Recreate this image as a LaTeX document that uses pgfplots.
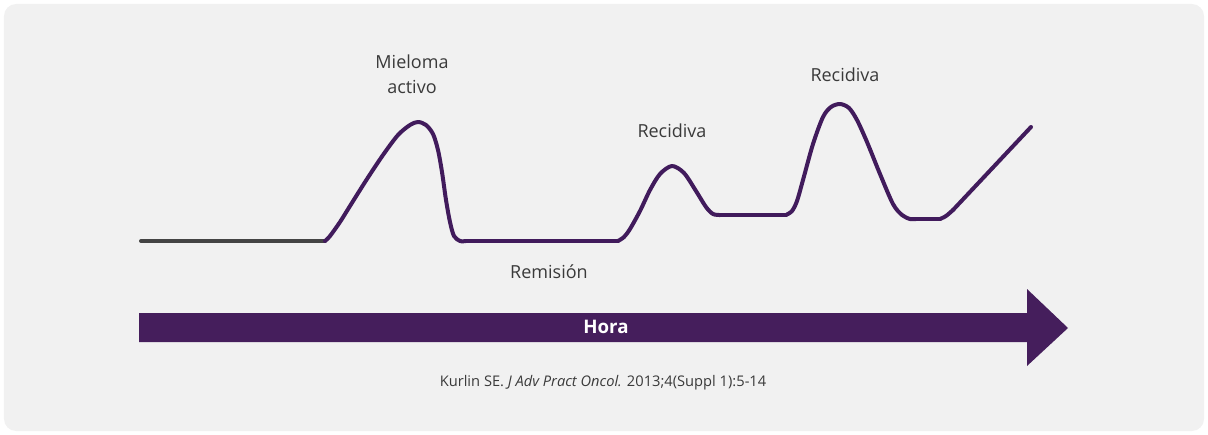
\documentclass[border=0pt]{standalone}
\usepackage{pgfplots}
\pgfplotsset{compat=1.18}
\usepackage{fontspec}
\setmainfont{Open Sans}
\definecolor{bgc}{HTML}{F1F1F1}
\definecolor{curvec}{HTML}{411B5C}
\definecolor{arrowc}{HTML}{451E5C}
\definecolor{grayc}{HTML}{444444}
\definecolor{txtc}{HTML}{3A3A3A}
\begin{document}
\begin{tikzpicture}
\begin{axis}[
  scale only axis, width=906pt, height=326.25pt,
  xmin=0, xmax=1208, ymin=0, ymax=435, y dir=reverse,
  hide axis, clip=false,
]
\fill[bgc, rounded corners=9pt] (axis cs:4,4) rectangle (axis cs:1204,431);
% arrow
\addplot[fill=arrowc, draw=none] coordinates {
 (139,313) (1027,313) (1027,289) (1068,328) (1027,366) (1027,342) (139,342) } -- cycle;
% gray baseline
\addplot[grayc, line width=3pt, line cap=round] coordinates {(141,241) (325,241)};
% purple curve: humps and flats
\pgfplotsset{cv/.style={curvec, line width=3pt, line cap=round, line join=round}}
\addplot[cv, smooth, tension=0.5] coordinates {
 (325,241) (330,236) (340,222) (350,206) (367,179) (383,155) (398,135) (410,125) (418,122)
 (426,125) (433,134) (438,150) (442,172) (446,200) (450,222) (454,236) (460,241) (466,241)};
\addplot[cv] coordinates {(466,241) (618,241)};
\addplot[cv, smooth, tension=0.5] coordinates {
 (618,241) (624,237) (630,229) (640,211) (650,190) (660,174) (672,166)
 (684,173) (696,191) (706,207) (713,214) (720,215)};
\addplot[cv] coordinates {(720,215) (786,215)};
\addplot[cv, smooth, tension=0.5] coordinates {
 (786,215) (792,211) (797,201) (803,180) (813,144) (823,117) (831,107) (840,104) (849,108) (857,120)
 (867,142) (880,174) (893,204) (902,215) (910,219) (916,219)};
\addplot[cv] coordinates {(916,219) (940,219)};
\addplot[cv, smooth, tension=0.5] coordinates {(940,219) (946,216) (953,210)};
\addplot[cv] coordinates {(953,210) (1031,127)};
% labels
\node[txtc, align=center, font=\fontsize{13.5pt}{19pt}\selectfont] at (axis cs:412,74) {Mieloma\\activo};
\node[txtc, font=\fontsize{13.5pt}{17pt}\selectfont] at (axis cs:672,131) {Recidiva};
\node[txtc, font=\fontsize{13.5pt}{17pt}\selectfont] at (axis cs:845,75) {Recidiva};
\node[txtc, font=\fontsize{13.5pt}{17pt}\selectfont] at (axis cs:549,272) {Remisión};
\node[white, font=\fontsize{14pt}{17pt}\selectfont\bfseries] at (axis cs:606,327) {Hora};
\node[txtc, font=\fontsize{11pt}{13pt}\selectfont] at (axis cs:603,383) {Kurlin SE. \textit{J Adv Pract Oncol.} 2013;4(Suppl 1):5-14};
\end{axis}
\pgfresetboundingbox
\path (current axis.south west) rectangle (current axis.north east);
\end{tikzpicture}
\end{document}
